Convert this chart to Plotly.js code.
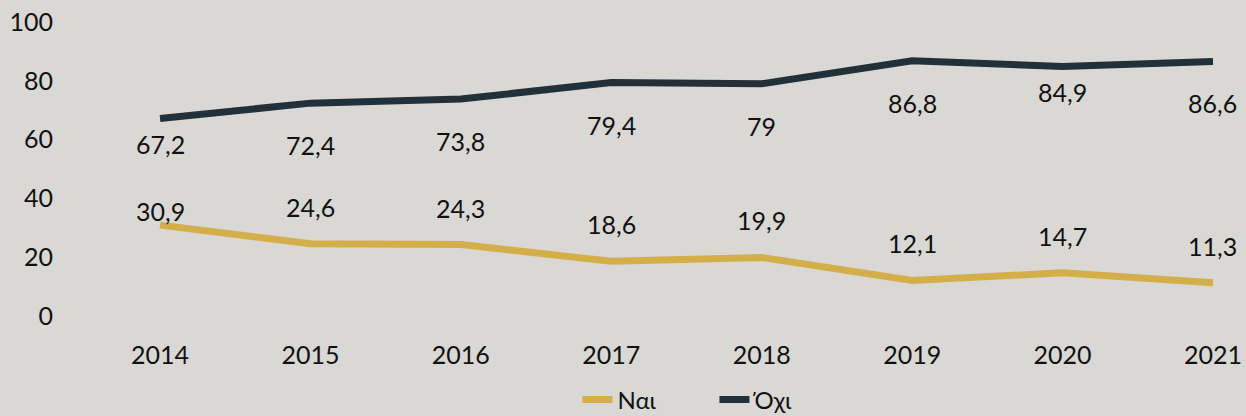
<!DOCTYPE html>
<html>
<head>
<meta charset="utf-8">
<script src="https://cdn.plot.ly/plotly-3.0.1.min.js"></script>
<style>html,body{margin:0;padding:0;background:#d9d8d4;}#chart{width:1246px;height:416px;}</style>
</head>
<body>
<div id="chart"></div>
<script>
// Data
const years = ["2014", "2015", "2016", "2017", "2018", "2019", "2020", "2021"];
const nai = [30.9, 24.6, 24.3, 18.6, 19.9, 12.1, 14.7, 11.3];
const oxi = [67.2, 72.4, 73.8, 79.4, 79.0, 86.8, 84.9, 86.6];
const seriesNames = ["Ναι", "Όχι"];
const yTicks = [0, 20, 40, 60, 80, 100];

// Styling (label offsets in pixels)
const naiShift = [14, 37, 37, 37, 37, 37, 37, 37];
const oxiShift = [-26, -42, -42, -42, -42, -42, -26, -42];
const FONT = "Lato, 'Open Sans', sans-serif";
const fmt = v => String(v).replace('.', ',');

const traces = [
  {x: years, y: nai, name: seriesNames[0], type: 'scatter', mode: 'lines',
   line: {color: '#d4ae48', width: 7}, hoverinfo: 'skip'},
  {x: years, y: oxi, name: seriesNames[1], type: 'scatter', mode: 'lines',
   line: {color: '#22303a', width: 7}, hoverinfo: 'skip'}
];

const annotations = [];
years.forEach((yr, i) => {
  annotations.push({xref: 'x', yref: 'y', x: i, y: nai[i], text: fmt(nai[i]), showarrow: false,
    yshift: naiShift[i], font: {family: FONT, size: 25, color: '#111'}});
  annotations.push({xref: 'x', yref: 'y', x: i, y: oxi[i], text: fmt(oxi[i]), showarrow: false,
    yshift: oxiShift[i], font: {family: FONT, size: 25, color: '#111'}});
});

const layout = {
  width: 1246, height: 416,
  paper_bgcolor: '#d9d8d4', plot_bgcolor: '#d9d8d4',
  margin: {l: 60, r: 10, t: 22, b: 100, autoexpand: false},
  font: {family: FONT, size: 25, color: '#111'},
  xaxis: {type: 'category', range: [-0.665, 7.153], showgrid: false, zeroline: false,
          showline: false, ticks: '', ticklabelstandoff: 22, automargin: false,
          tickfont: {size: 25, color: '#111'}},
  yaxis: {range: [0, 100], tickvals: yTicks, showgrid: false, zeroline: false, showline: false,
          ticks: '', ticklabelstandoff: 6, automargin: false, tickfont: {size: 25, color: '#111'}},
  showlegend: true,
  legend: {orientation: 'h', x: 0.44, xanchor: 'left', y: -0.285, yanchor: 'middle',
           font: {size: 24, color: '#111'}, bgcolor: 'rgba(0,0,0,0)', entrywidth: 92},
  annotations: annotations
};

Plotly.newPlot('chart', traces, layout, {displayModeBar: false, staticPlot: true});
</script>
</body>
</html>
